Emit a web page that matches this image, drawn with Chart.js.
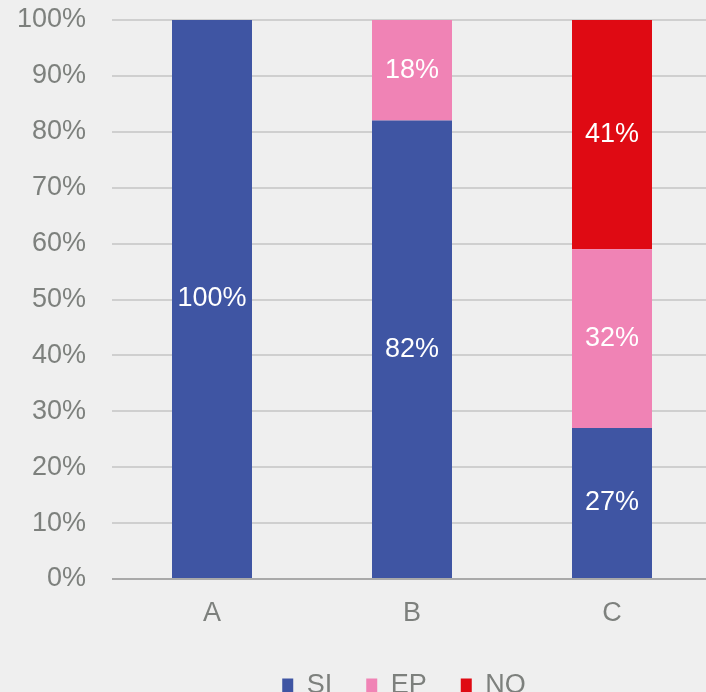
<!DOCTYPE html>
<html>
<head>
<meta charset="utf-8">
<script src="https://cdn.jsdelivr.net/npm/chart.js@4/dist/chart.umd.min.js"></script>
<style>
  html, body { margin: 0; padding: 0; background: #efefef; overflow: hidden; }
  #wrap { width: 712px; height: 709px; }
</style>
</head>
<body>
<div id="wrap"><canvas id="myChart" width="712" height="709"></canvas></div>
<script>
const categories = ['A', 'B', 'C'];
const siValues = [100, 82, 27];
const epValues = [0, 18, 32];
const noValues = [0, 0, 41];
const yTicks = [0, 10, 20, 30, 40, 50, 60, 70, 80, 90, 100];

const canvas = document.getElementById('myChart');
const ctx = canvas.getContext('2d');
const font = 'Liberation Sans, Arial, sans-serif';
const tickColor = '#7d807d';

// white value labels in the middle of each segment
const segmentLabels = {
    id: 'segmentLabels',
    afterDatasetsDraw(chart) {
        const c = chart.ctx;
        c.save();
        c.fillStyle = '#ffffff';
        c.font = '27px ' + font;
        c.textAlign = 'center';
        c.textBaseline = 'middle';
        chart.data.datasets.forEach((ds, i) => {
            const meta = chart.getDatasetMeta(i);
            meta.data.forEach((bar, j) => {
                const v = ds.data[j];
                if (!v) return;
                const p = bar.getProps(['x', 'y', 'base'], true);
                c.fillText(v + '%', p.x, (p.y + p.base) / 2);
            });
        });
        c.restore();
    }
};

// legend sits a bit right of the canvas centre, like the original
const legendShift = {
    id: 'legendShift',
    afterLayout(chart) {
        chart.legend.left += 48;
        chart.legend.right += 48;
    }
};

const chart = new Chart(ctx, {
    type: 'bar',
    data: {
        labels: categories,
        datasets: [
            { label: 'SI', data: siValues, backgroundColor: '#3f55a3' },
            { label: 'EP', data: epValues, backgroundColor: '#f083b5' },
            { label: 'NO', data: noValues, backgroundColor: '#df0a13' }
        ]
    },
    options: {
        responsive: false,
        animation: false,
        layout: { padding: { top: 20, right: 0, left: 0, bottom: 0 } },
        datasets: { bar: { barPercentage: 0.4, categoryPercentage: 1 } },
        scales: {
            x: {
                stacked: true,
                afterFit(scale) { scale.height = 59; },
                grid: { display: false, drawTicks: false },
                border: { display: false },
                ticks: { color: tickColor, font: { size: 27, family: font }, padding: 18 }
            },
            y: {
                stacked: true,
                min: 0,
                max: 100,
                afterFit(scale) { scale.width = 112; scale.paddingTop = 0; },
                afterBuildTicks(scale) { scale.ticks = yTicks.map(v => ({ value: v })); },
                grid: {
                    drawTicks: false,
                    lineWidth: 2,
                    color: c => c.tick && c.tick.value === 0 ? '#a9a9a9' : '#cfcfcf'
                },
                border: { display: false },
                ticks: {
                    color: tickColor,
                    font: { size: 27, family: font },
                    padding: 26,
                    callback: v => v + '%'
                }
            }
        },
        plugins: {
            legend: {
                position: 'bottom',
                labels: {
                    color: tickColor,
                    font: { size: 27, family: font },
                    boxWidth: 11,
                    boxHeight: 14,
                    padding: 34
                }
            },
            tooltip: { enabled: false }
        }
    },
    plugins: [segmentLabels, legendShift]
});
</script>
</body>
</html>
